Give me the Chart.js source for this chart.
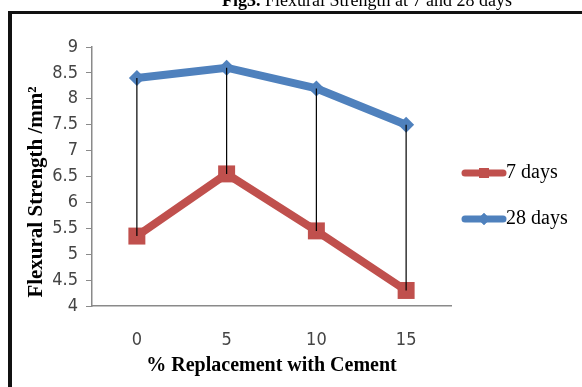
<!DOCTYPE html>
<html>
<head>
<meta charset="utf-8">
<script src="https://cdn.jsdelivr.net/npm/chart.js@4.4.1/dist/chart.umd.min.js"></script>
<style>
  html, body { margin: 0; padding: 0; background: #fff; }
  #wrap { position: relative; width: 582px; height: 387px; overflow: hidden; }
  #frame { position: absolute; left: 8px; top: 11px; width: 600px; height: 400px;
           border-left: 4px solid #111; border-top: 3px solid #111; }
  canvas { position: absolute; left: 0; top: 0; }
</style>
</head>
<body>
<div id="wrap">
  <div id="frame"></div>
  <canvas id="c" width="582" height="387"></canvas>
</div>
<script>
// Replacement percentages on the x axis
const categories = ['0', '5', '10', '15'];
// Flexural strength readings
const days7 = [5.35, 6.55, 5.45, 4.3];
const days28 = [8.4, 8.6, 8.2, 7.5];
const seriesNames = ['7 days', '28 days'];
const yTicks = [4, 4.5, 5, 5.5, 6, 6.5, 7, 7.5, 8, 8.5, 9];

const RED = '#C0504D';
const BLUE = '#4F81BD';
const SERIF = "'Liberation Serif', 'Times New Roman', serif";
const TICKFONT = "'Liberation Sans Narrow', 'DejaVu Sans Condensed', 'Liberation Sans', sans-serif";

// Vertical drop lines joining the two series at each category
const dropLines = {
  id: 'dropLines',
  afterDatasetsDraw(chart) {
    const a = chart.getDatasetMeta(0).data;
    const b = chart.getDatasetMeta(1).data;
    const ctx = chart.ctx;
    ctx.save();
    ctx.strokeStyle = '#000';
    ctx.lineWidth = 1.2;
    for (let i = 0; i < a.length; i++) {
      ctx.beginPath();
      ctx.moveTo(b[i].x, b[i].y);
      ctx.lineTo(a[i].x, a[i].y);
      ctx.stroke();
    }
    ctx.restore();
  }
};

// Page title, axis titles and the side legend
const decorations = {
  id: 'decorations',
  afterDraw(chart) {
    const ctx = chart.ctx;
    const area = chart.chartArea;
    ctx.save();
    // figure title
    ctx.fillStyle = '#000';
    ctx.textBaseline = 'alphabetic';
    ctx.textAlign = 'left';
    ctx.font = 'bold 18px ' + SERIF;
    const lead = 'Fig3.';
    ctx.fillText(lead, 222, 6);
    const w = ctx.measureText(lead).width;
    ctx.font = '18px ' + SERIF;
    ctx.fillText(' Flexural Strength at 7 and 28 days', 222 + w, 6);

    // x axis title
    ctx.font = 'bold 20px ' + SERIF;
    ctx.textAlign = 'center';
    ctx.textBaseline = 'middle';
    ctx.fillText('% Replacement with Cement', (area.left + area.right) / 2, 366);

    // y axis title
    ctx.save();
    ctx.translate(37, 192);
    ctx.rotate(-Math.PI / 2);
    ctx.font = 'bold 21px ' + SERIF;
    ctx.fillText('Flexural Strength /mm\u00B2', 0, 0);
    ctx.restore();

    // legend
    const items = [
      { ds: chart.data.datasets[0], y: 173, r: 7 },
      { ds: chart.data.datasets[1], y: 219, r: 6 }
    ];
    items.forEach(it => {
      ctx.strokeStyle = it.ds.borderColor;
      ctx.lineWidth = 7;
      ctx.lineCap = 'round';
      ctx.beginPath();
      ctx.moveTo(465, it.y);
      ctx.lineTo(503, it.y);
      ctx.stroke();
      ctx.fillStyle = it.ds.borderColor;
      ctx.beginPath();
      Chart.helpers.drawPoint(ctx, { pointStyle: it.ds.pointStyle, radius: it.r, borderWidth: 0 }, 484, it.y);
      ctx.fill();
      ctx.fillStyle = '#000';
      ctx.font = '20px ' + SERIF;
      ctx.textAlign = 'left';
      ctx.textBaseline = 'middle';
      ctx.fillText(it.ds.label, 506, it.y);
    });
    ctx.restore();
  }
};

new Chart(document.getElementById('c'), {
  type: 'line',
  data: {
    labels: categories,
    datasets: [
      {
        label: seriesNames[0],
        data: days7,
        borderColor: RED,
        backgroundColor: RED,
        borderWidth: 8,
        pointStyle: 'rect',
        pointRadius: 12,
        pointBorderWidth: 0,
        tension: 0
      },
      {
        label: seriesNames[1],
        data: days28,
        borderColor: BLUE,
        backgroundColor: BLUE,
        borderWidth: 8,
        pointStyle: 'rectRot',
        pointRadius: 8,
        pointBorderWidth: 0,
        tension: 0
      }
    ]
  },
  options: {
    responsive: false,
    animation: false,
    events: [],
    layout: { padding: { left: 16, right: 131, top: 47, bottom: 0 } },
    plugins: { legend: { display: false }, tooltip: { enabled: false } },
    scales: {
      x: {
        offset: true,
        grid: { display: false },
        border: { display: true, color: '#8a8a8a', width: 1.5 },
        ticks: { color: '#444', font: { family: TICKFONT, size: 18 }, padding: 16 },
        afterFit(s) { s.height = 81; }
      },
      y: {
        min: 4,
        max: 9,
        afterBuildTicks(s) { s.ticks = yTicks.map(v => ({ value: v })); },
        grid: { drawOnChartArea: false, drawTicks: true, tickLength: 6, color: '#8a8a8a' },
        border: { display: true, color: '#8a8a8a', width: 1.5 },
        ticks: {
          color: '#444',
          font: { family: TICKFONT, size: 18 },
          padding: 8,
          callback: v => String(v)
        },
        afterFit(s) { s.width = 76; }
      }
    }
  },
  plugins: [dropLines, decorations]
});
</script>
</body>
</html>
